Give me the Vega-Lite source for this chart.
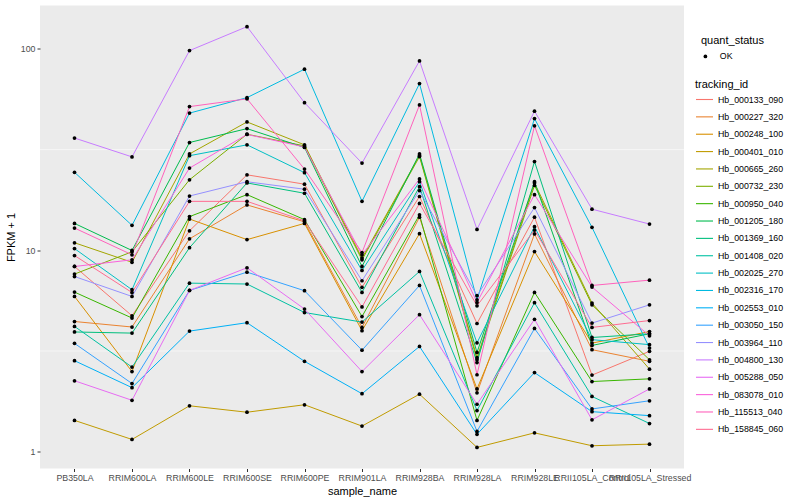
{
"$schema":"https://vega.github.io/schema/vega-lite/v6.json",
"width":644,"height":463,
"autosize":{"type":"none"},
"padding":{"left":40,"top":5.5,"right":116,"bottom":31.5},
"background":"white",
"config":{
 "view":{"fill":"#EBEBEB","stroke":null},
 "font":"Liberation Sans",
 "axis":{"domain":false,"gridColor":"white","gridWidth":1.1,"tickColor":"#333333","tickSize":3,"labelColor":"#4D4D4D","labelFontSize":8.8,"titleFontSize":11,"titleColor":"black","titleFontWeight":"normal","labelPadding":2,"zindex":0},
 "legend":{"titleFontSize":11,"titleFontWeight":"normal","titleColor":"black","labelFontSize":8.8,"labelColor":"black"}
},
"data":{"values":[
{"tracking_id":"Hb_000133_090","sample_name":"PB350LA","fpkm_plus_1":8.31,"quant_status":"OK"},
{"tracking_id":"Hb_000133_090","sample_name":"RRIM600LA","fpkm_plus_1":4.73,"quant_status":"OK"},
{"tracking_id":"Hb_000133_090","sample_name":"RRIM600LE","fpkm_plus_1":12.5,"quant_status":"OK"},
{"tracking_id":"Hb_000133_090","sample_name":"RRIM600SE","fpkm_plus_1":23.7,"quant_status":"OK"},
{"tracking_id":"Hb_000133_090","sample_name":"RRIM600PE","fpkm_plus_1":21.3,"quant_status":"OK"},
{"tracking_id":"Hb_000133_090","sample_name":"RRIM901LA","fpkm_plus_1":6.55,"quant_status":"OK"},
{"tracking_id":"Hb_000133_090","sample_name":"RRIM928BA","fpkm_plus_1":18.5,"quant_status":"OK"},
{"tracking_id":"Hb_000133_090","sample_name":"RRIM928LA","fpkm_plus_1":4.33,"quant_status":"OK"},
{"tracking_id":"Hb_000133_090","sample_name":"RRIM928LE","fpkm_plus_1":14.6,"quant_status":"OK"},
{"tracking_id":"Hb_000133_090","sample_name":"RRII105LA_Control","fpkm_plus_1":2.40,"quant_status":"OK"},
{"tracking_id":"Hb_000133_090","sample_name":"RRII105LA_Stressed","fpkm_plus_1":3.15,"quant_status":"OK"},
{"tracking_id":"Hb_000227_320","sample_name":"PB350LA","fpkm_plus_1":4.43,"quant_status":"OK"},
{"tracking_id":"Hb_000227_320","sample_name":"RRIM600LA","fpkm_plus_1":4.16,"quant_status":"OK"},
{"tracking_id":"Hb_000227_320","sample_name":"RRIM600LE","fpkm_plus_1":11.4,"quant_status":"OK"},
{"tracking_id":"Hb_000227_320","sample_name":"RRIM600SE","fpkm_plus_1":16.8,"quant_status":"OK"},
{"tracking_id":"Hb_000227_320","sample_name":"RRIM600PE","fpkm_plus_1":13.85,"quant_status":"OK"},
{"tracking_id":"Hb_000227_320","sample_name":"RRIM901LA","fpkm_plus_1":4.14,"quant_status":"OK"},
{"tracking_id":"Hb_000227_320","sample_name":"RRIM928BA","fpkm_plus_1":14.6,"quant_status":"OK"},
{"tracking_id":"Hb_000227_320","sample_name":"RRIM928LA","fpkm_plus_1":1.96,"quant_status":"OK"},
{"tracking_id":"Hb_000227_320","sample_name":"RRIM928LE","fpkm_plus_1":12.05,"quant_status":"OK"},
{"tracking_id":"Hb_000227_320","sample_name":"RRII105LA_Control","fpkm_plus_1":3.21,"quant_status":"OK"},
{"tracking_id":"Hb_000227_320","sample_name":"RRII105LA_Stressed","fpkm_plus_1":2.81,"quant_status":"OK"},
{"tracking_id":"Hb_000248_100","sample_name":"PB350LA","fpkm_plus_1":5.90,"quant_status":"OK"},
{"tracking_id":"Hb_000248_100","sample_name":"RRIM600LA","fpkm_plus_1":2.50,"quant_status":"OK"},
{"tracking_id":"Hb_000248_100","sample_name":"RRIM600LE","fpkm_plus_1":14.3,"quant_status":"OK"},
{"tracking_id":"Hb_000248_100","sample_name":"RRIM600SE","fpkm_plus_1":11.3,"quant_status":"OK"},
{"tracking_id":"Hb_000248_100","sample_name":"RRIM600PE","fpkm_plus_1":13.6,"quant_status":"OK"},
{"tracking_id":"Hb_000248_100","sample_name":"RRIM901LA","fpkm_plus_1":3.99,"quant_status":"OK"},
{"tracking_id":"Hb_000248_100","sample_name":"RRIM928BA","fpkm_plus_1":12.1,"quant_status":"OK"},
{"tracking_id":"Hb_000248_100","sample_name":"RRIM928LA","fpkm_plus_1":2.05,"quant_status":"OK"},
{"tracking_id":"Hb_000248_100","sample_name":"RRIM928LE","fpkm_plus_1":9.86,"quant_status":"OK"},
{"tracking_id":"Hb_000248_100","sample_name":"RRII105LA_Control","fpkm_plus_1":3.46,"quant_status":"OK"},
{"tracking_id":"Hb_000248_100","sample_name":"RRII105LA_Stressed","fpkm_plus_1":3.95,"quant_status":"OK"},
{"tracking_id":"Hb_000401_010","sample_name":"PB350LA","fpkm_plus_1":1.43,"quant_status":"OK"},
{"tracking_id":"Hb_000401_010","sample_name":"RRIM600LA","fpkm_plus_1":1.15,"quant_status":"OK"},
{"tracking_id":"Hb_000401_010","sample_name":"RRIM600LE","fpkm_plus_1":1.69,"quant_status":"OK"},
{"tracking_id":"Hb_000401_010","sample_name":"RRIM600SE","fpkm_plus_1":1.57,"quant_status":"OK"},
{"tracking_id":"Hb_000401_010","sample_name":"RRIM600PE","fpkm_plus_1":1.71,"quant_status":"OK"},
{"tracking_id":"Hb_000401_010","sample_name":"RRIM901LA","fpkm_plus_1":1.34,"quant_status":"OK"},
{"tracking_id":"Hb_000401_010","sample_name":"RRIM928BA","fpkm_plus_1":1.93,"quant_status":"OK"},
{"tracking_id":"Hb_000401_010","sample_name":"RRIM928LA","fpkm_plus_1":1.05,"quant_status":"OK"},
{"tracking_id":"Hb_000401_010","sample_name":"RRIM928LE","fpkm_plus_1":1.24,"quant_status":"OK"},
{"tracking_id":"Hb_000401_010","sample_name":"RRII105LA_Control","fpkm_plus_1":1.07,"quant_status":"OK"},
{"tracking_id":"Hb_000401_010","sample_name":"RRII105LA_Stressed","fpkm_plus_1":1.09,"quant_status":"OK"},
{"tracking_id":"Hb_000665_260","sample_name":"PB350LA","fpkm_plus_1":10.9,"quant_status":"OK"},
{"tracking_id":"Hb_000665_260","sample_name":"RRIM600LA","fpkm_plus_1":8.72,"quant_status":"OK"},
{"tracking_id":"Hb_000665_260","sample_name":"RRIM600LE","fpkm_plus_1":30.1,"quant_status":"OK"},
{"tracking_id":"Hb_000665_260","sample_name":"RRIM600SE","fpkm_plus_1":43.4,"quant_status":"OK"},
{"tracking_id":"Hb_000665_260","sample_name":"RRIM600PE","fpkm_plus_1":33.4,"quant_status":"OK"},
{"tracking_id":"Hb_000665_260","sample_name":"RRIM901LA","fpkm_plus_1":9.15,"quant_status":"OK"},
{"tracking_id":"Hb_000665_260","sample_name":"RRIM928BA","fpkm_plus_1":29.6,"quant_status":"OK"},
{"tracking_id":"Hb_000665_260","sample_name":"RRIM928LA","fpkm_plus_1":2.93,"quant_status":"OK"},
{"tracking_id":"Hb_000665_260","sample_name":"RRIM928LE","fpkm_plus_1":21.6,"quant_status":"OK"},
{"tracking_id":"Hb_000665_260","sample_name":"RRII105LA_Control","fpkm_plus_1":5.47,"quant_status":"OK"},
{"tracking_id":"Hb_000665_260","sample_name":"RRII105LA_Stressed","fpkm_plus_1":2.57,"quant_status":"OK"},
{"tracking_id":"Hb_000732_230","sample_name":"PB350LA","fpkm_plus_1":7.62,"quant_status":"OK"},
{"tracking_id":"Hb_000732_230","sample_name":"RRIM600LA","fpkm_plus_1":9.83,"quant_status":"OK"},
{"tracking_id":"Hb_000732_230","sample_name":"RRIM600LE","fpkm_plus_1":22.4,"quant_status":"OK"},
{"tracking_id":"Hb_000732_230","sample_name":"RRIM600SE","fpkm_plus_1":37.7,"quant_status":"OK"},
{"tracking_id":"Hb_000732_230","sample_name":"RRIM600PE","fpkm_plus_1":33.0,"quant_status":"OK"},
{"tracking_id":"Hb_000732_230","sample_name":"RRIM901LA","fpkm_plus_1":8.97,"quant_status":"OK"},
{"tracking_id":"Hb_000732_230","sample_name":"RRIM928BA","fpkm_plus_1":29.2,"quant_status":"OK"},
{"tracking_id":"Hb_000732_230","sample_name":"RRIM928LA","fpkm_plus_1":2.86,"quant_status":"OK"},
{"tracking_id":"Hb_000732_230","sample_name":"RRIM928LE","fpkm_plus_1":21.0,"quant_status":"OK"},
{"tracking_id":"Hb_000732_230","sample_name":"RRII105LA_Control","fpkm_plus_1":5.36,"quant_status":"OK"},
{"tracking_id":"Hb_000732_230","sample_name":"RRII105LA_Stressed","fpkm_plus_1":2.86,"quant_status":"OK"},
{"tracking_id":"Hb_000950_040","sample_name":"PB350LA","fpkm_plus_1":6.20,"quant_status":"OK"},
{"tracking_id":"Hb_000950_040","sample_name":"RRIM600LA","fpkm_plus_1":4.61,"quant_status":"OK"},
{"tracking_id":"Hb_000950_040","sample_name":"RRIM600LE","fpkm_plus_1":14.7,"quant_status":"OK"},
{"tracking_id":"Hb_000950_040","sample_name":"RRIM600SE","fpkm_plus_1":18.9,"quant_status":"OK"},
{"tracking_id":"Hb_000950_040","sample_name":"RRIM600PE","fpkm_plus_1":14.2,"quant_status":"OK"},
{"tracking_id":"Hb_000950_040","sample_name":"RRIM901LA","fpkm_plus_1":4.69,"quant_status":"OK"},
{"tracking_id":"Hb_000950_040","sample_name":"RRIM928BA","fpkm_plus_1":15.0,"quant_status":"OK"},
{"tracking_id":"Hb_000950_040","sample_name":"RRIM928LA","fpkm_plus_1":1.43,"quant_status":"OK"},
{"tracking_id":"Hb_000950_040","sample_name":"RRIM928LE","fpkm_plus_1":6.18,"quant_status":"OK"},
{"tracking_id":"Hb_000950_040","sample_name":"RRII105LA_Control","fpkm_plus_1":2.23,"quant_status":"OK"},
{"tracking_id":"Hb_000950_040","sample_name":"RRII105LA_Stressed","fpkm_plus_1":2.30,"quant_status":"OK"},
{"tracking_id":"Hb_001205_180","sample_name":"PB350LA","fpkm_plus_1":13.6,"quant_status":"OK"},
{"tracking_id":"Hb_001205_180","sample_name":"RRIM600LA","fpkm_plus_1":9.98,"quant_status":"OK"},
{"tracking_id":"Hb_001205_180","sample_name":"RRIM600LE","fpkm_plus_1":34.3,"quant_status":"OK"},
{"tracking_id":"Hb_001205_180","sample_name":"RRIM600SE","fpkm_plus_1":40.2,"quant_status":"OK"},
{"tracking_id":"Hb_001205_180","sample_name":"RRIM600PE","fpkm_plus_1":32.4,"quant_status":"OK"},
{"tracking_id":"Hb_001205_180","sample_name":"RRIM901LA","fpkm_plus_1":8.31,"quant_status":"OK"},
{"tracking_id":"Hb_001205_180","sample_name":"RRIM928BA","fpkm_plus_1":30.1,"quant_status":"OK"},
{"tracking_id":"Hb_001205_180","sample_name":"RRIM928LA","fpkm_plus_1":3.11,"quant_status":"OK"},
{"tracking_id":"Hb_001205_180","sample_name":"RRIM928LE","fpkm_plus_1":21.9,"quant_status":"OK"},
{"tracking_id":"Hb_001205_180","sample_name":"RRII105LA_Control","fpkm_plus_1":3.37,"quant_status":"OK"},
{"tracking_id":"Hb_001205_180","sample_name":"RRII105LA_Stressed","fpkm_plus_1":3.85,"quant_status":"OK"},
{"tracking_id":"Hb_001369_160","sample_name":"PB350LA","fpkm_plus_1":3.93,"quant_status":"OK"},
{"tracking_id":"Hb_001369_160","sample_name":"RRIM600LA","fpkm_plus_1":3.88,"quant_status":"OK"},
{"tracking_id":"Hb_001369_160","sample_name":"RRIM600LE","fpkm_plus_1":10.3,"quant_status":"OK"},
{"tracking_id":"Hb_001369_160","sample_name":"RRIM600SE","fpkm_plus_1":21.6,"quant_status":"OK"},
{"tracking_id":"Hb_001369_160","sample_name":"RRIM600PE","fpkm_plus_1":19.2,"quant_status":"OK"},
{"tracking_id":"Hb_001369_160","sample_name":"RRIM901LA","fpkm_plus_1":6.18,"quant_status":"OK"},
{"tracking_id":"Hb_001369_160","sample_name":"RRIM928BA","fpkm_plus_1":20.7,"quant_status":"OK"},
{"tracking_id":"Hb_001369_160","sample_name":"RRIM928LA","fpkm_plus_1":2.77,"quant_status":"OK"},
{"tracking_id":"Hb_001369_160","sample_name":"RRIM928LE","fpkm_plus_1":27.6,"quant_status":"OK"},
{"tracking_id":"Hb_001369_160","sample_name":"RRII105LA_Control","fpkm_plus_1":3.69,"quant_status":"OK"},
{"tracking_id":"Hb_001369_160","sample_name":"RRII105LA_Stressed","fpkm_plus_1":3.85,"quant_status":"OK"},
{"tracking_id":"Hb_001408_020","sample_name":"PB350LA","fpkm_plus_1":4.19,"quant_status":"OK"},
{"tracking_id":"Hb_001408_020","sample_name":"RRIM600LA","fpkm_plus_1":2.63,"quant_status":"OK"},
{"tracking_id":"Hb_001408_020","sample_name":"RRIM600LE","fpkm_plus_1":6.87,"quant_status":"OK"},
{"tracking_id":"Hb_001408_020","sample_name":"RRIM600SE","fpkm_plus_1":6.80,"quant_status":"OK"},
{"tracking_id":"Hb_001408_020","sample_name":"RRIM600PE","fpkm_plus_1":4.91,"quant_status":"OK"},
{"tracking_id":"Hb_001408_020","sample_name":"RRIM901LA","fpkm_plus_1":4.40,"quant_status":"OK"},
{"tracking_id":"Hb_001408_020","sample_name":"RRIM928BA","fpkm_plus_1":7.85,"quant_status":"OK"},
{"tracking_id":"Hb_001408_020","sample_name":"RRIM928LA","fpkm_plus_1":1.60,"quant_status":"OK"},
{"tracking_id":"Hb_001408_020","sample_name":"RRIM928LE","fpkm_plus_1":5.49,"quant_status":"OK"},
{"tracking_id":"Hb_001408_020","sample_name":"RRII105LA_Control","fpkm_plus_1":1.88,"quant_status":"OK"},
{"tracking_id":"Hb_001408_020","sample_name":"RRII105LA_Stressed","fpkm_plus_1":1.38,"quant_status":"OK"},
{"tracking_id":"Hb_002025_270","sample_name":"PB350LA","fpkm_plus_1":10.2,"quant_status":"OK"},
{"tracking_id":"Hb_002025_270","sample_name":"RRIM600LA","fpkm_plus_1":6.37,"quant_status":"OK"},
{"tracking_id":"Hb_002025_270","sample_name":"RRIM600LE","fpkm_plus_1":29.5,"quant_status":"OK"},
{"tracking_id":"Hb_002025_270","sample_name":"RRIM600SE","fpkm_plus_1":33.4,"quant_status":"OK"},
{"tracking_id":"Hb_002025_270","sample_name":"RRIM600PE","fpkm_plus_1":24.3,"quant_status":"OK"},
{"tracking_id":"Hb_002025_270","sample_name":"RRIM901LA","fpkm_plus_1":7.94,"quant_status":"OK"},
{"tracking_id":"Hb_002025_270","sample_name":"RRIM928BA","fpkm_plus_1":21.9,"quant_status":"OK"},
{"tracking_id":"Hb_002025_270","sample_name":"RRIM928LA","fpkm_plus_1":3.47,"quant_status":"OK"},
{"tracking_id":"Hb_002025_270","sample_name":"RRIM928LE","fpkm_plus_1":13.1,"quant_status":"OK"},
{"tracking_id":"Hb_002025_270","sample_name":"RRII105LA_Control","fpkm_plus_1":3.60,"quant_status":"OK"},
{"tracking_id":"Hb_002025_270","sample_name":"RRII105LA_Stressed","fpkm_plus_1":3.40,"quant_status":"OK"},
{"tracking_id":"Hb_002316_170","sample_name":"PB350LA","fpkm_plus_1":24.4,"quant_status":"OK"},
{"tracking_id":"Hb_002316_170","sample_name":"RRIM600LA","fpkm_plus_1":13.3,"quant_status":"OK"},
{"tracking_id":"Hb_002316_170","sample_name":"RRIM600LE","fpkm_plus_1":48.0,"quant_status":"OK"},
{"tracking_id":"Hb_002316_170","sample_name":"RRIM600SE","fpkm_plus_1":57.3,"quant_status":"OK"},
{"tracking_id":"Hb_002316_170","sample_name":"RRIM600PE","fpkm_plus_1":79.3,"quant_status":"OK"},
{"tracking_id":"Hb_002316_170","sample_name":"RRIM901LA","fpkm_plus_1":17.5,"quant_status":"OK"},
{"tracking_id":"Hb_002316_170","sample_name":"RRIM928BA","fpkm_plus_1":67.3,"quant_status":"OK"},
{"tracking_id":"Hb_002316_170","sample_name":"RRIM928LA","fpkm_plus_1":5.68,"quant_status":"OK"},
{"tracking_id":"Hb_002316_170","sample_name":"RRIM928LE","fpkm_plus_1":45.1,"quant_status":"OK"},
{"tracking_id":"Hb_002316_170","sample_name":"RRII105LA_Control","fpkm_plus_1":13.0,"quant_status":"OK"},
{"tracking_id":"Hb_002316_170","sample_name":"RRII105LA_Stressed","fpkm_plus_1":3.27,"quant_status":"OK"},
{"tracking_id":"Hb_002553_010","sample_name":"PB350LA","fpkm_plus_1":2.83,"quant_status":"OK"},
{"tracking_id":"Hb_002553_010","sample_name":"RRIM600LA","fpkm_plus_1":2.08,"quant_status":"OK"},
{"tracking_id":"Hb_002553_010","sample_name":"RRIM600LE","fpkm_plus_1":3.97,"quant_status":"OK"},
{"tracking_id":"Hb_002553_010","sample_name":"RRIM600SE","fpkm_plus_1":4.37,"quant_status":"OK"},
{"tracking_id":"Hb_002553_010","sample_name":"RRIM600PE","fpkm_plus_1":2.81,"quant_status":"OK"},
{"tracking_id":"Hb_002553_010","sample_name":"RRIM901LA","fpkm_plus_1":1.94,"quant_status":"OK"},
{"tracking_id":"Hb_002553_010","sample_name":"RRIM928BA","fpkm_plus_1":3.33,"quant_status":"OK"},
{"tracking_id":"Hb_002553_010","sample_name":"RRIM928LA","fpkm_plus_1":1.22,"quant_status":"OK"},
{"tracking_id":"Hb_002553_010","sample_name":"RRIM928LE","fpkm_plus_1":2.47,"quant_status":"OK"},
{"tracking_id":"Hb_002553_010","sample_name":"RRII105LA_Control","fpkm_plus_1":1.58,"quant_status":"OK"},
{"tracking_id":"Hb_002553_010","sample_name":"RRII105LA_Stressed","fpkm_plus_1":1.51,"quant_status":"OK"},
{"tracking_id":"Hb_003050_150","sample_name":"PB350LA","fpkm_plus_1":3.45,"quant_status":"OK"},
{"tracking_id":"Hb_003050_150","sample_name":"RRIM600LA","fpkm_plus_1":2.18,"quant_status":"OK"},
{"tracking_id":"Hb_003050_150","sample_name":"RRIM600LE","fpkm_plus_1":6.32,"quant_status":"OK"},
{"tracking_id":"Hb_003050_150","sample_name":"RRIM600SE","fpkm_plus_1":7.79,"quant_status":"OK"},
{"tracking_id":"Hb_003050_150","sample_name":"RRIM600PE","fpkm_plus_1":6.30,"quant_status":"OK"},
{"tracking_id":"Hb_003050_150","sample_name":"RRIM901LA","fpkm_plus_1":3.19,"quant_status":"OK"},
{"tracking_id":"Hb_003050_150","sample_name":"RRIM928BA","fpkm_plus_1":6.69,"quant_status":"OK"},
{"tracking_id":"Hb_003050_150","sample_name":"RRIM928LA","fpkm_plus_1":1.26,"quant_status":"OK"},
{"tracking_id":"Hb_003050_150","sample_name":"RRIM928LE","fpkm_plus_1":4.09,"quant_status":"OK"},
{"tracking_id":"Hb_003050_150","sample_name":"RRII105LA_Control","fpkm_plus_1":1.63,"quant_status":"OK"},
{"tracking_id":"Hb_003050_150","sample_name":"RRII105LA_Stressed","fpkm_plus_1":1.79,"quant_status":"OK"},
{"tracking_id":"Hb_003964_110","sample_name":"PB350LA","fpkm_plus_1":7.41,"quant_status":"OK"},
{"tracking_id":"Hb_003964_110","sample_name":"RRIM600LA","fpkm_plus_1":5.90,"quant_status":"OK"},
{"tracking_id":"Hb_003964_110","sample_name":"RRIM600LE","fpkm_plus_1":18.6,"quant_status":"OK"},
{"tracking_id":"Hb_003964_110","sample_name":"RRIM600SE","fpkm_plus_1":21.9,"quant_status":"OK"},
{"tracking_id":"Hb_003964_110","sample_name":"RRIM600PE","fpkm_plus_1":20.1,"quant_status":"OK"},
{"tracking_id":"Hb_003964_110","sample_name":"RRIM901LA","fpkm_plus_1":7.06,"quant_status":"OK"},
{"tracking_id":"Hb_003964_110","sample_name":"RRIM928BA","fpkm_plus_1":19.8,"quant_status":"OK"},
{"tracking_id":"Hb_003964_110","sample_name":"RRIM928LA","fpkm_plus_1":5.95,"quant_status":"OK"},
{"tracking_id":"Hb_003964_110","sample_name":"RRIM928LE","fpkm_plus_1":16.3,"quant_status":"OK"},
{"tracking_id":"Hb_003964_110","sample_name":"RRII105LA_Control","fpkm_plus_1":4.35,"quant_status":"OK"},
{"tracking_id":"Hb_003964_110","sample_name":"RRII105LA_Stressed","fpkm_plus_1":5.36,"quant_status":"OK"},
{"tracking_id":"Hb_004800_130","sample_name":"PB350LA","fpkm_plus_1":36.1,"quant_status":"OK"},
{"tracking_id":"Hb_004800_130","sample_name":"RRIM600LA","fpkm_plus_1":29.1,"quant_status":"OK"},
{"tracking_id":"Hb_004800_130","sample_name":"RRIM600LE","fpkm_plus_1":98.1,"quant_status":"OK"},
{"tracking_id":"Hb_004800_130","sample_name":"RRIM600SE","fpkm_plus_1":129,"quant_status":"OK"},
{"tracking_id":"Hb_004800_130","sample_name":"RRIM600PE","fpkm_plus_1":54.1,"quant_status":"OK"},
{"tracking_id":"Hb_004800_130","sample_name":"RRIM901LA","fpkm_plus_1":27.1,"quant_status":"OK"},
{"tracking_id":"Hb_004800_130","sample_name":"RRIM928BA","fpkm_plus_1":87.2,"quant_status":"OK"},
{"tracking_id":"Hb_004800_130","sample_name":"RRIM928LA","fpkm_plus_1":12.7,"quant_status":"OK"},
{"tracking_id":"Hb_004800_130","sample_name":"RRIM928LE","fpkm_plus_1":49.1,"quant_status":"OK"},
{"tracking_id":"Hb_004800_130","sample_name":"RRII105LA_Control","fpkm_plus_1":16.0,"quant_status":"OK"},
{"tracking_id":"Hb_004800_130","sample_name":"RRII105LA_Stressed","fpkm_plus_1":13.5,"quant_status":"OK"},
{"tracking_id":"Hb_005288_050","sample_name":"PB350LA","fpkm_plus_1":2.25,"quant_status":"OK"},
{"tracking_id":"Hb_005288_050","sample_name":"RRIM600LA","fpkm_plus_1":1.80,"quant_status":"OK"},
{"tracking_id":"Hb_005288_050","sample_name":"RRIM600LE","fpkm_plus_1":6.32,"quant_status":"OK"},
{"tracking_id":"Hb_005288_050","sample_name":"RRIM600SE","fpkm_plus_1":8.19,"quant_status":"OK"},
{"tracking_id":"Hb_005288_050","sample_name":"RRIM600PE","fpkm_plus_1":5.11,"quant_status":"OK"},
{"tracking_id":"Hb_005288_050","sample_name":"RRIM901LA","fpkm_plus_1":2.50,"quant_status":"OK"},
{"tracking_id":"Hb_005288_050","sample_name":"RRIM928BA","fpkm_plus_1":4.79,"quant_status":"OK"},
{"tracking_id":"Hb_005288_050","sample_name":"RRIM928LA","fpkm_plus_1":1.72,"quant_status":"OK"},
{"tracking_id":"Hb_005288_050","sample_name":"RRIM928LE","fpkm_plus_1":4.54,"quant_status":"OK"},
{"tracking_id":"Hb_005288_050","sample_name":"RRII105LA_Control","fpkm_plus_1":1.44,"quant_status":"OK"},
{"tracking_id":"Hb_005288_050","sample_name":"RRII105LA_Stressed","fpkm_plus_1":2.05,"quant_status":"OK"},
{"tracking_id":"Hb_083078_010","sample_name":"PB350LA","fpkm_plus_1":8.31,"quant_status":"OK"},
{"tracking_id":"Hb_083078_010","sample_name":"RRIM600LA","fpkm_plus_1":8.97,"quant_status":"OK"},
{"tracking_id":"Hb_083078_010","sample_name":"RRIM600LE","fpkm_plus_1":25.6,"quant_status":"OK"},
{"tracking_id":"Hb_083078_010","sample_name":"RRIM600SE","fpkm_plus_1":37.6,"quant_status":"OK"},
{"tracking_id":"Hb_083078_010","sample_name":"RRIM600PE","fpkm_plus_1":32.6,"quant_status":"OK"},
{"tracking_id":"Hb_083078_010","sample_name":"RRIM901LA","fpkm_plus_1":9.50,"quant_status":"OK"},
{"tracking_id":"Hb_083078_010","sample_name":"RRIM928BA","fpkm_plus_1":22.6,"quant_status":"OK"},
{"tracking_id":"Hb_083078_010","sample_name":"RRIM928LA","fpkm_plus_1":5.51,"quant_status":"OK"},
{"tracking_id":"Hb_083078_010","sample_name":"RRIM928LE","fpkm_plus_1":18.9,"quant_status":"OK"},
{"tracking_id":"Hb_083078_010","sample_name":"RRII105LA_Control","fpkm_plus_1":6.57,"quant_status":"OK"},
{"tracking_id":"Hb_083078_010","sample_name":"RRII105LA_Stressed","fpkm_plus_1":3.76,"quant_status":"OK"},
{"tracking_id":"Hb_115513_040","sample_name":"PB350LA","fpkm_plus_1":12.9,"quant_status":"OK"},
{"tracking_id":"Hb_115513_040","sample_name":"RRIM600LA","fpkm_plus_1":9.50,"quant_status":"OK"},
{"tracking_id":"Hb_115513_040","sample_name":"RRIM600LE","fpkm_plus_1":51.7,"quant_status":"OK"},
{"tracking_id":"Hb_115513_040","sample_name":"RRIM600SE","fpkm_plus_1":56.5,"quant_status":"OK"},
{"tracking_id":"Hb_115513_040","sample_name":"RRIM600PE","fpkm_plus_1":25.3,"quant_status":"OK"},
{"tracking_id":"Hb_115513_040","sample_name":"RRIM901LA","fpkm_plus_1":9.75,"quant_status":"OK"},
{"tracking_id":"Hb_115513_040","sample_name":"RRIM928BA","fpkm_plus_1":52.7,"quant_status":"OK"},
{"tracking_id":"Hb_115513_040","sample_name":"RRIM928LA","fpkm_plus_1":2.41,"quant_status":"OK"},
{"tracking_id":"Hb_115513_040","sample_name":"RRIM928LE","fpkm_plus_1":41.5,"quant_status":"OK"},
{"tracking_id":"Hb_115513_040","sample_name":"RRII105LA_Control","fpkm_plus_1":6.69,"quant_status":"OK"},
{"tracking_id":"Hb_115513_040","sample_name":"RRII105LA_Stressed","fpkm_plus_1":7.11,"quant_status":"OK"},
{"tracking_id":"Hb_158845_060","sample_name":"PB350LA","fpkm_plus_1":9.42,"quant_status":"OK"},
{"tracking_id":"Hb_158845_060","sample_name":"RRIM600LA","fpkm_plus_1":6.17,"quant_status":"OK"},
{"tracking_id":"Hb_158845_060","sample_name":"RRIM600LE","fpkm_plus_1":17.5,"quant_status":"OK"},
{"tracking_id":"Hb_158845_060","sample_name":"RRIM600SE","fpkm_plus_1":17.5,"quant_status":"OK"},
{"tracking_id":"Hb_158845_060","sample_name":"RRIM600PE","fpkm_plus_1":14.0,"quant_status":"OK"},
{"tracking_id":"Hb_158845_060","sample_name":"RRIM901LA","fpkm_plus_1":5.23,"quant_status":"OK"},
{"tracking_id":"Hb_158845_060","sample_name":"RRIM928BA","fpkm_plus_1":17.1,"quant_status":"OK"},
{"tracking_id":"Hb_158845_060","sample_name":"RRIM928LA","fpkm_plus_1":5.30,"quant_status":"OK"},
{"tracking_id":"Hb_158845_060","sample_name":"RRIM928LE","fpkm_plus_1":12.6,"quant_status":"OK"},
{"tracking_id":"Hb_158845_060","sample_name":"RRII105LA_Control","fpkm_plus_1":4.14,"quant_status":"OK"},
{"tracking_id":"Hb_158845_060","sample_name":"RRII105LA_Stressed","fpkm_plus_1":4.48,"quant_status":"OK"}
]},
"layer":[
 {"data":{"values":[{}]},"mark":{"type":"rule","color":"white","strokeWidth":0.55},
  "encoding":{"y":{"datum":3.1623,"type":"quantitative","title":"FPKM + 1"}}},
 {"data":{"values":[{}]},"mark":{"type":"rule","color":"white","strokeWidth":0.55},
  "encoding":{"y":{"datum":31.623,"type":"quantitative","title":"FPKM + 1"}}},
 {"mark":{"type":"line","strokeWidth":1},
  "encoding":{
   "x":{"field":"sample_name","type":"ordinal",
        "sort":["PB350LA","RRIM600LA","RRIM600LE","RRIM600SE","RRIM600PE","RRIM901LA","RRIM928BA","RRIM928LA","RRIM928LE","RRII105LA_Control","RRII105LA_Stressed"],
        "scale":{"type":"point","padding":0.6},
        "axis":{"title":"sample_name","labelAngle":0,"labelOverlap":false,"labelFlush":false,"titlePadding":3}},
   "y":{"field":"fpkm_plus_1","type":"quantitative","title":"FPKM + 1",
        "scale":{"type":"log","domain":[0.825,164.3],"nice":false,"zero":false},
        "axis":{"values":[1,10,100],"format":"d","titlePadding":4}},
   "color":{"field":"tracking_id","type":"nominal",
     "scale":{"domain":["Hb_000133_090","Hb_000227_320","Hb_000248_100","Hb_000401_010","Hb_000665_260","Hb_000732_230","Hb_000950_040","Hb_001205_180","Hb_001369_160","Hb_001408_020","Hb_002025_270","Hb_002316_170","Hb_002553_010","Hb_003050_150","Hb_003964_110","Hb_004800_130","Hb_005288_050","Hb_083078_010","Hb_115513_040","Hb_158845_060"],
              "range":["#F8766D","#EA8331","#D89000","#C09B00","#A3A500","#7CAE00","#39B600","#00BB4E","#00BF7D","#00C1A3","#00BFC4","#00BAE0","#00B0F6","#35A2FF","#9590FF","#C77CFF","#E76BF3","#FA62DB","#FF62BC","#FF6C91"]},
     "legend":{"orient":"none","legendX":655,"legendY":73.5,"title":"tracking_id","symbolType":"stroke","symbolSize":289,"symbolStrokeWidth":1.1,"titlePadding":0,"rowPadding":2.36,"labelOffset":4}}
  }},
 {"mark":{"type":"point","filled":true,"size":14,"color":"black","opacity":1},
  "encoding":{
   "x":{"field":"sample_name","type":"ordinal",
        "sort":["PB350LA","RRIM600LA","RRIM600LE","RRIM600SE","RRIM600PE","RRIM901LA","RRIM928BA","RRIM928LA","RRIM928LE","RRII105LA_Control","RRII105LA_Stressed"]},
   "y":{"field":"fpkm_plus_1","type":"quantitative","title":"FPKM + 1"},
   "shape":{"field":"quant_status","type":"nominal","scale":{"range":["circle"]},
     "legend":{"orient":"none","legendX":661,"legendY":29.5,"title":"quant_status","titlePadding":6,"labelOffset":10,"symbolFillColor":"black","symbolStrokeColor":"black","symbolSize":14}}
  }}
]
}
